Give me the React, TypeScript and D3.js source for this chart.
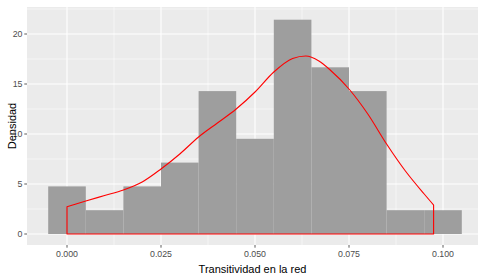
import React from "react";
import * as d3 from "d3";

const binStarts = [-0.005, 0.005, 0.015, 0.025, 0.035, 0.045, 0.055, 0.065, 0.075, 0.085, 0.095];
const binWidth = 0.01;
const binDensity = [4.76, 2.38, 4.76, 7.14, 14.29, 9.52, 21.43, 16.67, 14.29, 2.38, 2.38];

const densX = [0, 0.005, 0.01, 0.015, 0.02, 0.025, 0.03, 0.035, 0.04, 0.045, 0.05, 0.055, 0.06, 0.0635, 0.067, 0.07, 0.075, 0.08, 0.085, 0.09, 0.095, 0.0975];
const densY = [2.73, 3.3, 3.85, 4.4, 5.2, 6.5, 8.0, 9.7, 11.1, 12.5, 14.2, 16.2, 17.55, 17.8, 17.3, 16.4, 14.5, 12.0, 9.0, 6.3, 4.0, 2.9];

const xTicks = [0, 0.025, 0.05, 0.075, 0.1];
const xTickLabels = ["0.000", "0.025", "0.050", "0.075", "0.100"];
const yTicks = [0, 5, 10, 15, 20];

export default function App() {
  const W = 480, H = 276;
  const left = 27, right = 478, top = 7, bottom = 245;
  const x = d3.scaleLinear().domain([0, 0.1]).range([67, 443]);
  const y = d3.scaleLinear().domain([0, 20]).range([234, 34]);
  const xMinor = [-0.0125, 0.0125, 0.0375, 0.0625, 0.0875, 0.1125];
  const yMinor = [2.5, 7.5, 12.5, 17.5, 22.5];

  const pts: [number, number][] = densX.map((v, i) => [v, densY[i]]);
  const line = d3.line<[number, number]>().x(d => x(d[0])).y(d => y(d[1])).curve(d3.curveMonotoneX);
  const curvePath = line(pts) as string;
  const first = pts[0], last = pts[pts.length - 1];
  const polyPath = `M${x(first[0])},${y(0)}L${x(first[0])},${y(first[1])}` + curvePath.replace(/^M[^C L]*/, "") + `L${x(last[0])},${y(0)}Z`;

  const font = "'Liberation Sans', Arial, sans-serif";
  return (
    <svg width={W} height={H} style={{ position: "absolute", left: 0, top: 0 }} fontFamily={font}>
      <rect x={0} y={0} width={W} height={H} fill="#fff" />
      <defs>
        <clipPath id="panel"><rect x={left} y={top} width={right - left} height={bottom - top} /></clipPath>
      </defs>
      <rect x={left} y={top} width={right - left} height={bottom - top} fill="#EBEBEB" />
      <g clipPath="url(#panel)">
        {yMinor.map(v => <line key={"ym" + v} x1={left} x2={right} y1={y(v)} y2={y(v)} stroke="#fff" strokeWidth={0.55} />)}
        {xMinor.map(v => <line key={"xm" + v} y1={top} y2={bottom} x1={x(v)} x2={x(v)} stroke="#fff" strokeWidth={0.55} />)}
        {yTicks.map(v => <line key={"yM" + v} x1={left} x2={right} y1={y(v)} y2={y(v)} stroke="#fff" strokeWidth={1.1} />)}
        {xTicks.map(v => <line key={"xM" + v} y1={top} y2={bottom} x1={x(v)} x2={x(v)} stroke="#fff" strokeWidth={1.1} />)}
        {binStarts.map((b, i) => (
          <rect key={"b" + i} x={x(b)} y={y(binDensity[i])} width={x(b + binWidth) - x(b)} height={y(0) - y(binDensity[i])} fill="#9E9E9E" />
        ))}
        <path d={polyPath} fill="none" stroke="#FF0000" strokeWidth={1.1} strokeLinejoin="round" />
      </g>
      {yTicks.map(v => (
        <g key={"yt" + v}>
          <line x1={left - 2.7} x2={left} y1={y(v)} y2={y(v)} stroke="#333" strokeWidth={0.8} />
          <text x={left - 4.5} y={y(v)} dy="0.35em" textAnchor="end" fontSize={8.8} fill="#4D4D4D">{v}</text>
        </g>
      ))}
      {xTicks.map((v, i) => (
        <g key={"xt" + v}>
          <line x1={x(v)} x2={x(v)} y1={bottom} y2={bottom + 2.7} stroke="#333" strokeWidth={0.8} />
          <text x={x(v)} y={bottom + 12} textAnchor="middle" fontSize={8.8} fill="#4D4D4D">{xTickLabels[i]}</text>
        </g>
      ))}
      <text x={(left + right) / 2} y={273} textAnchor="middle" fontSize={11} fill="#000">Transitividad en la red</text>
      <text transform={`translate(16,${(top + bottom) / 2}) rotate(-90)`} textAnchor="middle" fontSize={11} fill="#000">Densidad</text>
    </svg>
  );
}
